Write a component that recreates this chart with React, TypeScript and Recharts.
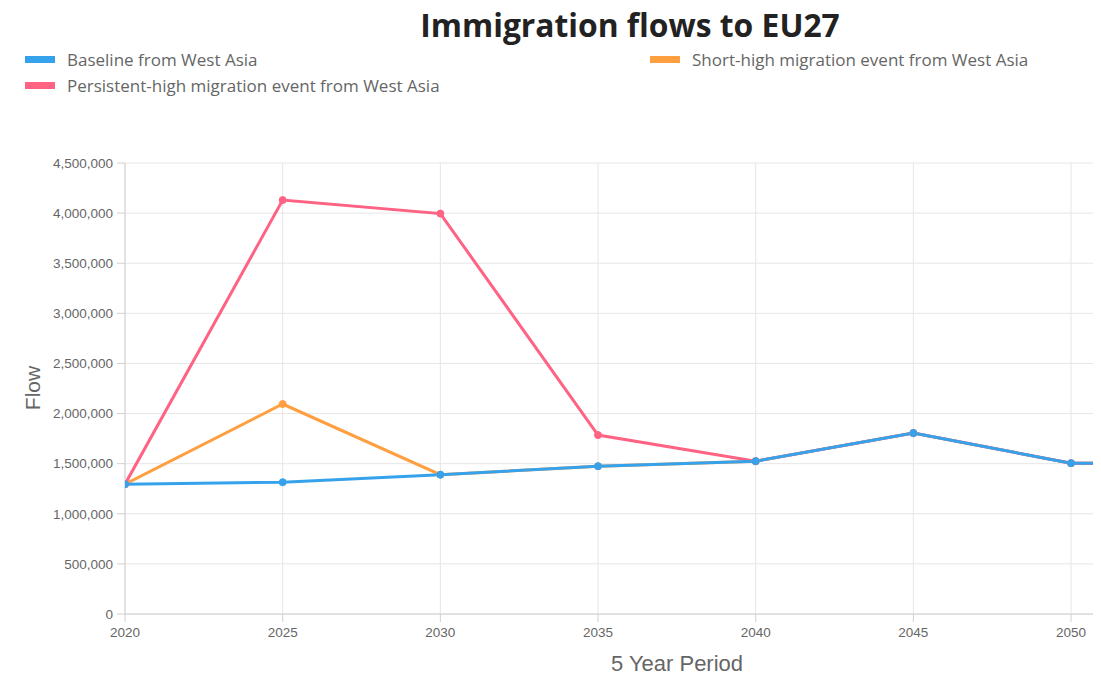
import React from 'react';
import { LineChart, Line, XAxis, YAxis, CartesianGrid } from 'recharts';

const periods = [2020, 2025, 2030, 2035, 2040, 2045, 2050, 2055];
const visibleTicks = [2020, 2025, 2030, 2035, 2040, 2045, 2050];
const baseline = [1295000, 1315000, 1390000, 1475000, 1525000, 1805000, 1505000, 1495000];
const persistentHigh = [1295000, 4130000, 3995000, 1785000, 1525000, 1805000, 1505000, 1495000];
const shortHigh = [1295000, 2095000, 1390000, 1475000, 1525000, 1805000, 1505000, 1495000];
const yTicks = [0, 500000, 1000000, 1500000, 2000000, 2500000, 3000000, 3500000, 4000000, 4500000];

const BLUE = '#36A2EB';
const PINK = '#FF6384';
const ORANGE = '#FF9F40';

const data = periods.map((p, i) => ({
  period: p,
  baseline: baseline[i],
  persistent: persistentHigh[i],
  short: shortHigh[i],
}));

const fmt = (v: number) => v.toLocaleString('en-US');

const legendFont = '"Open Sans", "Noto Sans", sans-serif';
const axisFont = '"Liberation Sans", Arial, sans-serif';

const LegendItem = ({ color, label, x, y }: { color: string; label: string; x: number; y: number }) => (
  <div style={{ position: 'absolute', left: x, top: y, display: 'flex', alignItems: 'center', whiteSpace: 'nowrap' }}>
    <div style={{ width: 30, height: 7, background: color, marginRight: 12 }} />
    <span style={{ fontFamily: legendFont, fontSize: 17, color: '#666' }}>{label}</span>
  </div>
);

const YLabel = () => (
  <text
    x={24}
    y={380}
    transform="rotate(-90, 24, 380)"
    textAnchor="middle"
    dominantBaseline="central"
    fill="#666"
    style={{ fontFamily: axisFont, fontSize: 21 }}
  >
    Flow
  </text>
);

const XLabel = () => (
  <text x={669} y={655} textAnchor="middle" dominantBaseline="central" fill="#666" style={{ fontFamily: axisFont, fontSize: 22 }}>
    5 Year Period
  </text>
);

export default function App() {
  return (
    <div style={{ width: 1093, height: 666, position: 'relative' }}>
      <div
        style={{
          position: 'absolute',
          left: 322,
          width: 600,
          top: -5,
          textAlign: 'center',
          fontFamily: '"Open Sans", "Noto Sans", sans-serif',
          fontWeight: 700,
          fontSize: 31.8,
          color: '#222',
          lineHeight: 'normal',
        }}
      >
        Immigration flows to EU27
      </div>
      <LegendItem color={BLUE} label="Baseline from West Asia" x={17} y={40} />
      <LegendItem color={ORANGE} label="Short-high migration event from West Asia" x={642} y={40} />
      <LegendItem color={PINK} label="Persistent-high migration event from West Asia" x={17} y={66} />
      <div style={{ position: 'absolute', left: 0, top: 0 }}>
        <LineChart width={1093} height={666} data={data} margin={{ top: 155, right: 0, bottom: 0, left: 0 }}>
          <CartesianGrid stroke="#e6e6e6" strokeWidth={1} />
          <XAxis
            dataKey="period"
            type="number"
            domain={[2020, 2050.95]}
            allowDataOverflow
            ticks={visibleTicks}
            height={60}
            tickSize={8}
            tickMargin={5}
            stroke="#d0d0d0"
            tick={{ fill: '#666', fontSize: 13.5, fontFamily: axisFont }}
            label={<XLabel />}
          />
          <YAxis
            type="number"
            domain={[0, 4500000]}
            ticks={yTicks}
            width={117}
            tickSize={8}
            tickMargin={4}
            stroke="#d0d0d0"
            tickFormatter={fmt}
            tick={{ fill: '#666', fontSize: 13.5, fontFamily: axisFont }}
            label={<YLabel />}
          />
          <Line
            dataKey="short"
            stroke={ORANGE}
            strokeWidth={3}
            dot={{ r: 3.5, fill: ORANGE, stroke: ORANGE, strokeWidth: 1 }}
            isAnimationActive={false}
          />
          <Line
            dataKey="persistent"
            stroke={PINK}
            strokeWidth={3}
            dot={{ r: 3.5, fill: PINK, stroke: PINK, strokeWidth: 1 }}
            isAnimationActive={false}
          />
          <Line
            dataKey="baseline"
            stroke={BLUE}
            strokeWidth={3}
            dot={{ r: 3.5, fill: BLUE, stroke: BLUE, strokeWidth: 1 }}
            isAnimationActive={false}
          />
        </LineChart>
      </div>
    </div>
  );
}
